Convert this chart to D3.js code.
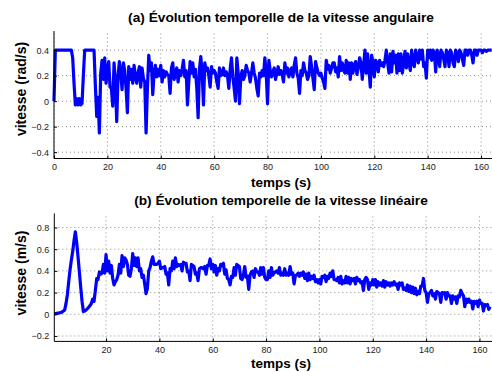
<!DOCTYPE html>
<html><head><meta charset="utf-8">
<script src="https://cdn.jsdelivr.net/npm/d3@7/dist/d3.min.js"></script>
<style>
html,body{margin:0;padding:0;background:#fff;}
svg{display:block;font-family:"Liberation Sans",Arial,sans-serif;}
</style></head>
<body>
<svg id="chart" width="492" height="372"></svg>
<script>
// ---------- DATA ----------
const titleA = "(a) Évolution temporelle de la vitesse angulaire";
const titleB = "(b) Évolution temporelle de la vitesse linéaire";
const xLabel = "temps (s)";
const yLabelA = "vitesse (rad/s)";
const yLabelB = "vitesse (m/s)";
const xTicksA = [0, 20, 40, 60, 80, 100, 120, 140, 160];
const xTicksB = [20, 40, 60, 80, 100, 120, 140, 160];
const yTicksA = [-0.4, -0.2, 0, 0.2, 0.4];
const yTicksB = [-0.2, 0, 0.2, 0.4, 0.6, 0.8];
const sampleStep = 0.5;     // seconds between samples
const startA = 0;           // time of first angular sample
const startB = 0.5;         // time of first linear sample

// angular speed (rad/s), sampled every 0.5 s from t = 0
const angularSpeed = [
  0, 0.4, 0.4, 0.4, 0.4, 0.4, 0.4, 0.4, 0.4, 0.4,
  0.4, 0.4, 0.4, 0.4, 0.34, 0.14, -0.03, 0.02, -0.03, 0.02,
  -0.03, -0.02, 0.2, 0.4, 0.4, 0.4, 0.4, 0.4, 0.4, 0.4,
  0.4, 0.12, -0.12, 0.03, -0.25, 0.22, 0.32, 0.17, 0.34, 0.14,
  0.24, 0.31, 0.11, 0.1, -0.04, 0.3, 0.14, -0.16, 0.2, 0.31,
  0.22, 0.09, 0.3, 0.24, 0.1, -0.09, 0.27, 0.17, 0.25, 0.14,
  0.28, 0.2, 0.14, 0.22, 0.27, 0.11, 0.26, 0.18, 0.15, -0.25,
  0.1, 0.36, 0.24, 0.3, 0.05, 0.22, 0.28, 0.19, 0.25, 0.2,
  0.28, 0.15, 0.24, 0.19, 0.23, 0.21, 0.2, 0.06, 0.26, 0.3,
  0.17, 0.22, 0.26, 0.15, 0.24, 0.2, 0.25, 0.32, 0.19, 0.24,
  -0.03, 0.15, 0.31, 0.22, 0.3, 0.19, 0.25, 0.1, -0.13, 0.25,
  0.35, 0.22, -0.03, 0.3, 0.24, 0.26, 0.2, 0.11, 0.27, 0.22,
  0.24, 0.22, 0.15, 0.1, 0.26, 0.2, 0.21, 0.26, 0.2, 0.23,
  0.2, 0.1, 0.25, 0.34, 0.19, 0.1, 0.0, 0.34, 0.22, -0.02,
  0.19, 0.24, 0.17, 0.2, 0.28, 0.24, 0.22, 0.15, 0.22, 0.3,
  0.22, 0.18, 0.1, 0.04, 0.22, 0.19, 0.24, 0.2, 0.34, 0.22,
  -0.02, 0.32, 0.24, 0.19, 0.23, 0.26, 0.17, 0.22, 0.27, 0.21,
  0.24, 0.21, 0.15, 0.3, 0.22, 0.26, 0.19, 0.24, 0.26, 0.19,
  0.28, 0.34, 0.22, 0.18, 0.06, 0.24, 0.2, 0.3, 0.24, 0.22,
  0.17, 0.2, 0.35, 0.27, 0.18, 0.09, 0.31, 0.26, 0.22, 0.2,
  0.22, 0.18, 0.15, 0.1, 0.32, 0.25, 0.28, 0.22, 0.26, 0.3,
  0.3, 0.23, 0.26, 0.19, 0.35, 0.24, 0.3, 0.24, 0.22, 0.32,
  0.22, 0.3, 0.17, 0.3, 0.22, 0.28, 0.31, 0.21, 0.26, 0.34,
  0.3, 0.17, 0.28, 0.4, 0.22, 0.37, 0.25, 0.11, 0.36, 0.31,
  0.19, 0.32, 0.3, 0.23, 0.32, 0.28, 0.3, 0.27, 0.32, 0.4,
  0.3, 0.22, 0.37, 0.23, 0.39, 0.3, 0.36, 0.22, 0.37, 0.24,
  0.37, 0.22, 0.3, 0.39, 0.26, 0.37, 0.3, 0.24, 0.4, 0.3,
  0.27, 0.4, 0.35, 0.3, 0.4, 0.33, 0.4, 0.27, 0.3, 0.18,
  0.4, 0.34, 0.4, 0.32, 0.4, 0.38, 0.23, 0.4, 0.37, 0.27,
  0.4, 0.38, 0.33, 0.27, 0.4, 0.38, 0.27, 0.4, 0.38, 0.3,
  0.27, 0.4, 0.38, 0.31, 0.4, 0.38, 0.33, 0.28, 0.4, 0.4,
  0.36, 0.4, 0.4, 0.36, 0.3, 0.4, 0.4, 0.36, 0.4, 0.4,
  0.4, 0.38, 0.4, 0.4, 0.39, 0.4, 0.4, 0.4, 0.4
];

// linear speed (m/s), sampled every 0.5 s from t = 0.5
const linearSpeed = [
  0.005, 0.006, 0.008, 0.01, 0.013, 0.016, 0.02, 0.03, 0.04,
  0.1, 0.18, 0.3, 0.41, 0.5, 0.58, 0.68, 0.76, 0.66, 0.53,
  0.39, 0.25, 0.12, 0.025, 0.03, 0.04, 0.05, 0.065, 0.08, 0.1,
  0.14, 0.12, 0.22, 0.33, 0.32, 0.39, 0.37, 0.38, 0.46, 0.38,
  0.55, 0.40, 0.49, 0.38, 0.45, 0.33, 0.27, 0.30, 0.32, 0.36,
  0.46, 0.38, 0.54, 0.44, 0.52, 0.50, 0.46, 0.36, 0.35, 0.42,
  0.56, 0.45, 0.52, 0.44, 0.52, 0.40, 0.42, 0.34, 0.36, 0.28,
  0.19, 0.24, 0.40, 0.43, 0.49, 0.53, 0.46, 0.46, 0.46, 0.47,
  0.49, 0.42, 0.43, 0.43, 0.44, 0.37, 0.38, 0.27, 0.42, 0.40,
  0.49, 0.42, 0.52, 0.44, 0.46, 0.45, 0.46, 0.40, 0.48, 0.47,
  0.47, 0.39, 0.40, 0.31, 0.46, 0.45, 0.44, 0.37, 0.38, 0.31,
  0.42, 0.43, 0.43, 0.42, 0.44, 0.37, 0.45, 0.45, 0.51, 0.42,
  0.46, 0.39, 0.45, 0.36, 0.42, 0.40, 0.46, 0.45, 0.47, 0.37,
  0.41, 0.33, 0.32, 0.27, 0.35, 0.34, 0.43, 0.36, 0.46, 0.45,
  0.44, 0.33, 0.32, 0.36, 0.44, 0.34, 0.35, 0.23, 0.36, 0.39,
  0.40, 0.34, 0.42, 0.39, 0.39, 0.36, 0.43, 0.37, 0.43, 0.34,
  0.32, 0.32, 0.40, 0.34, 0.43, 0.36, 0.38, 0.39, 0.40, 0.38,
  0.43, 0.36, 0.38, 0.36, 0.42, 0.36, 0.38, 0.36, 0.44, 0.37,
  0.38, 0.28, 0.36, 0.36, 0.38, 0.35, 0.38, 0.36, 0.39, 0.33,
  0.37, 0.31, 0.38, 0.32, 0.35, 0.33, 0.36, 0.30, 0.32, 0.29,
  0.32, 0.28, 0.35, 0.34, 0.36, 0.30, 0.35, 0.33, 0.38, 0.35,
  0.40, 0.32, 0.32, 0.31, 0.34, 0.29, 0.35, 0.28, 0.31, 0.29,
  0.35, 0.29, 0.34, 0.28, 0.33, 0.31, 0.33, 0.28, 0.34, 0.31,
  0.32, 0.29, 0.30, 0.22, 0.32, 0.34, 0.32, 0.23, 0.29, 0.27,
  0.32, 0.27, 0.32, 0.25, 0.30, 0.27, 0.29, 0.26, 0.31, 0.25,
  0.30, 0.27, 0.29, 0.26, 0.29, 0.27, 0.30, 0.27, 0.28, 0.23,
  0.29, 0.27, 0.29, 0.23, 0.24, 0.22, 0.27, 0.21, 0.26, 0.20,
  0.25, 0.19, 0.24, 0.18, 0.21, 0.19, 0.26, 0.26, 0.33, 0.22,
  0.20, 0.11, 0.19, 0.20, 0.22, 0.17, 0.19, 0.14, 0.21, 0.20,
  0.19, 0.11, 0.20, 0.19, 0.20, 0.14, 0.20, 0.17, 0.17, 0.10,
  0.17, 0.14, 0.16, 0.10, 0.17, 0.16, 0.22, 0.19, 0.17, 0.07,
  0.14, 0.11, 0.14, 0.11, 0.12, 0.05, 0.12, 0.10, 0.12, 0.07,
  0.13, 0.10, 0.10, 0.03, 0.09, 0.08, 0.09, 0.045, 0.07
];

// ---------- DRAW ----------
const svg = d3.select("#chart");
const fmt = d => d === 0 ? "0" : d3.format(".1f")(d);

function panel(cfg) {
  const g = svg.append("g");
  const x = d3.scaleLinear().domain(cfg.xDomain).range(cfg.xRange);
  const y = d3.scaleLinear().domain(cfg.yDomain).range(cfg.yRange);
  const [x0, x1] = cfg.xRange, [y0, y1] = cfg.yRange; // y0 bottom, y1 top

  // dotted grid
  const grid = g.append("g").attr("stroke", "#6f6f6f").attr("stroke-width", 0.8)
    .attr("stroke-dasharray", "1,3").attr("fill", "none");
  cfg.xTicks.forEach(t => grid.append("line")
    .attr("x1", x(t)).attr("x2", x(t)).attr("y1", y0).attr("y2", y1));
  cfg.yTicks.forEach(t => grid.append("line")
    .attr("x1", x0).attr("x2", x1 + 20).attr("y1", y(t)).attr("y2", y(t)));

  // data line
  const pts = cfg.values.map((v, i) => [cfg.start + i * sampleStep, v]);
  g.append("path").datum(pts)
    .attr("fill", "none").attr("stroke", "#0000ff").attr("stroke-width", 3.2)
    .attr("stroke-linejoin", "round").attr("stroke-linecap", "butt")
    .attr("d", d3.line().x(d => x(d[0])).y(d => y(d[1])));

  // axes
  const xa = g.append("g").attr("transform", `translate(0,${y0})`)
    .call(d3.axisBottom(x).tickValues(cfg.xTicks).tickSize(-3).tickPadding(5).tickFormat(d3.format("d")));
  const ya = g.append("g").attr("transform", `translate(${x0},0)`)
    .call(d3.axisLeft(y).tickValues(cfg.yTicks).tickSize(-3).tickPadding(5).tickFormat(fmt));
  [xa, ya].forEach(a => {
    a.select(".domain").attr("stroke", "#000").attr("stroke-width", 1);
    a.selectAll(".tick line").attr("stroke", "#000");
    a.selectAll("text").attr("font-size", 9).attr("fill", "#1a1a1a")
      .attr("font-family", "'Liberation Sans', Arial, sans-serif");
  });
  ya.select(".domain").attr("d", `M0,${y0}V${y1}`);
  xa.select(".domain").attr("d", `M${x0},0H${x1 + 20}`);

  // texts
  g.append("text").attr("x", cfg.titleX).attr("y", cfg.titleY).attr("text-anchor", "middle")
    .attr("font-size", 13.7).attr("font-weight", "bold").text(cfg.title);
  g.append("text").attr("x", cfg.titleX).attr("y", cfg.xLabelY).attr("text-anchor", "middle")
    .attr("font-size", 13.5).attr("font-weight", "bold").text(xLabel);
  g.append("text").attr("transform", `translate(${cfg.yLabelX},${cfg.yLabelCY}) rotate(-90)`)
    .attr("text-anchor", "middle").attr("font-size", 14).attr("font-weight", "bold").text(cfg.yLabel);
}

panel({
  values: angularSpeed, start: startA,
  xDomain: [0, 164.1], xRange: [54, 492],
  yDomain: [-0.45, 0.55], yRange: [158.5, 31],
  xTicks: xTicksA, yTicks: yTicksA,
  title: titleA, titleX: 281, titleY: 22, xLabelY: 187,
  yLabel: yLabelA, yLabelX: 26, yLabelCY: 89
});

panel({
  values: linearSpeed, start: startB,
  xDomain: [0.6, 164.7], xRange: [54.3, 492],
  yDomain: [-0.25, 0.93], yRange: [341.4, 213.4],
  xTicks: xTicksB, yTicks: yTicksB,
  title: titleB, titleX: 281, titleY: 205, xLabelY: 368,
  yLabel: yLabelB, yLabelX: 26, yLabelCY: 273
});
</script>
</body></html>
